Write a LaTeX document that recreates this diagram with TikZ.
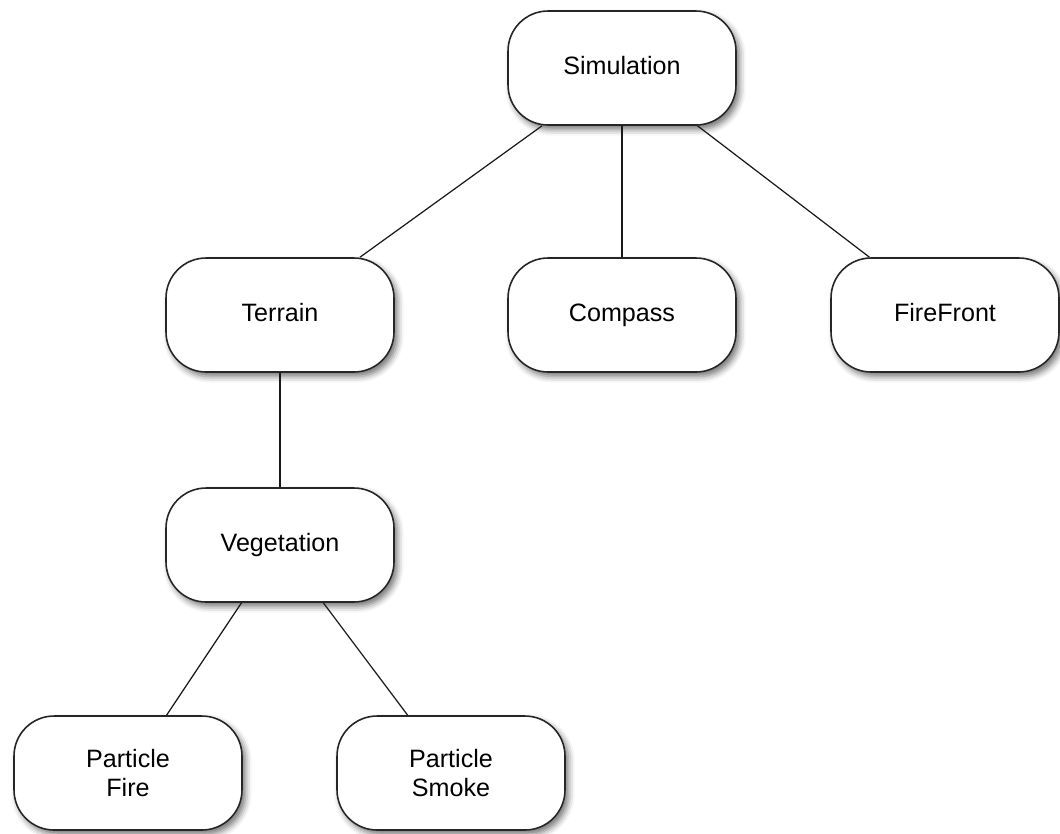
\documentclass[tikz,border=0pt]{standalone}
\usepackage{fontspec}
\setmainfont{Liberation Sans}
\usetikzlibrary{shadows.blur}
\begin{document}
\begin{tikzpicture}[x=0.02cm,y=-0.02cm,
  box/.style={draw=black!85, line width=0.9pt, fill=white,
    rounded corners=0.8cm, minimum width=4.56cm, minimum height=2.28cm,
    inner sep=0pt, align=center,
    font=\fontsize{14.3}{17}\selectfont,
    blur shadow={shadow xshift=2pt, shadow yshift=-2.5pt,
      shadow blur radius=3.5pt, shadow opacity=55}},
  oneline/.style={box, text height=1.7ex, text depth=0.2ex},
  link/.style={draw=black!90, line width=0.7pt}]
\useasboundingbox (0,0) rectangle (1060,833);
% top level
\node[oneline] (sim) at (622,68) {Simulation};
% second level
\node[oneline] (ter) at (280,315) {Terrain};
\node[oneline] (com) at (622,315) {Compass};
\node[oneline] (ff)  at (945,315) {FireFront};
% third level
\node[oneline] (veg) at (280,545) {Vegetation};
% leaves
\node[box] (pf) at (128,773) {Particle\\Fire};
\node[box] (ps) at (451,773) {Particle\\Smoke};
% tree edges
\draw[link] (sim) -- (ter);
\draw[link] (sim) -- (com);
\draw[link] (sim) -- (ff);
\draw[link] (ter) -- (veg);
\draw[link] (veg) -- (pf);
\draw[link] (veg) -- (ps);
\end{tikzpicture}
\end{document}
